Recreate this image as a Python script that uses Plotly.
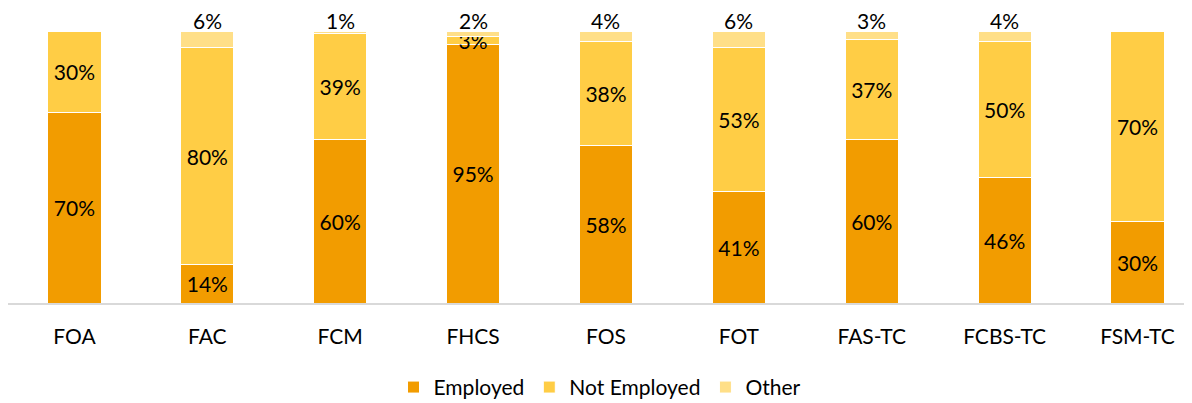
import plotly.graph_objects as go

categories = ["FOA", "FAC", "FCM", "FHCS", "FOS", "FOT", "FAS-TC", "FCBS-TC", "FSM-TC"]
employed = [70, 14, 60, 95, 58, 41, 60, 46, 30]
not_employed = [30, 80, 39, 3, 38, 53, 37, 50, 70]
other = [0, 6, 1, 2, 4, 6, 3, 4, 0]

COLORS = {
    'employed': '#F29C00',
    'not_employed': '#FFCD45',
    'other': '#FFDF88',
}
FONT = 'Lato'
TXT = 21


def _labels(vals):
    return [f"{v}%" if v else '' for v in vals]


fig = go.Figure()

series = [
    ('Employed', employed, COLORS['employed'], True),
    ('Not Employed', not_employed, COLORS['not_employed'], True),
    ('Other', other, COLORS['other'], False),
]
for name, vals, color, inside in series:
    fig.add_trace(go.Bar(
        x=categories,
        y=[v / 100 for v in vals],
        name=name,
        marker=dict(color=color, line=dict(color='white', width=1)),
        width=0.4,
        text=_labels(vals) if inside else None,
        textposition='inside' if inside else 'none',
        insidetextanchor='middle',
        textfont=dict(family=FONT, size=TXT, color='#000000'),
        cliponaxis=False,
    ))

# "Other" labels sit just on top of each stack
for cat, e, n, o in zip(categories, employed, not_employed, other):
    if o:
        fig.add_annotation(
            x=cat, y=(e + n + o) / 100,
            text=f"{o}%",
            showarrow=False,
            yanchor='bottom',
            yshift=-4,
            font=dict(family=FONT, size=TXT, color='#000000'),
        )

# page body adds an 8px offset, so margins are trimmed by that amount
fig.update_layout(
    barmode='stack',
    width=1192,
    height=403,
    margin=dict(l=0, r=8, t=23, b=108),
    plot_bgcolor='white',
    paper_bgcolor='white',
    font=dict(family=FONT, size=TXT, color='#000000'),
    uniformtext=dict(minsize=TXT, mode='show'),
    legend=dict(
        orientation='h',
        x=0.5, xanchor='center',
        y=-0.235, yanchor='top',
        font=dict(family=FONT, size=TXT),
        traceorder='normal',
    ),
)

fig.update_xaxes(
    range=[-0.5, 8.41],
    showline=True,
    linecolor='#D9D9D9',
    linewidth=2,
    ticks='',
    ticklabelstandoff=14,
    tickfont=dict(family=FONT, size=TXT),
    showgrid=False,
)
fig.update_yaxes(
    range=[0, 1],
    visible=False,
    showgrid=False,
)

fig.write_html("out.html")
